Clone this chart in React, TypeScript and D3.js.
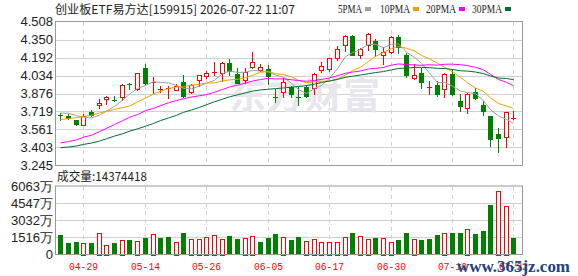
import React from "react";
import * as d3 from "d3";

// trading days shown (MM-DD)
const dates = [
  "04-24", "04-27", "04-28", "04-29", "04-30", "05-06", "05-07", "05-08", "05-11", "05-12",
  "05-13", "05-14", "05-15", "05-18", "05-19", "05-20", "05-21", "05-22", "05-25", "05-26",
  "05-27", "05-28", "05-29", "06-01", "06-02", "06-03", "06-04", "06-05", "06-08", "06-09",
  "06-10", "06-11", "06-12", "06-15", "06-16", "06-17", "06-18", "06-22", "06-23", "06-24",
  "06-25", "06-26", "06-29", "06-30", "07-01", "07-02", "07-03", "07-06", "07-07", "07-08",
  "07-09", "07-10", "07-13", "07-14", "07-15", "07-16", "07-17", "07-20", "07-21", "07-22",
];
const tickDates = ["04-29", "05-14", "05-26", "06-05", "06-17", "06-30", "07-10", "07-22"];

const open = [
  3.688, 3.682, 3.642, 3.598, 3.711, 3.772, 3.824, 3.816, 3.842, 3.963,
  3.917, 4.102, 3.969, 3.914, 3.914, 3.905, 3.978, 3.888, 3.992, 4.027,
  4.059, 4.053, 4.146, 4.050, 3.992, 4.105, 4.085, 4.088, 3.842, 3.888,
  3.932, 3.850, 3.937, 3.926, 4.079, 4.094, 4.184, 4.299, 4.383, 4.218,
  4.299, 4.334, 4.210, 4.239, 4.369, 4.213, 4.010, 4.056, 3.929, 3.952,
  3.914, 4.044, 3.813, 3.749, 3.891, 3.778, 3.679, 3.517, 3.494, 3.659,
];
const high = [
  3.703, 3.697, 3.648, 3.697, 3.735, 3.827, 3.853, 3.853, 3.958, 3.972,
  4.059, 4.131, 4.021, 3.940, 3.943, 3.958, 4.039, 3.958, 4.036, 4.073,
  4.157, 4.152, 4.178, 4.097, 4.097, 4.239, 4.131, 4.128, 3.917, 4.015,
  3.943, 3.937, 3.949, 4.059, 4.157, 4.192, 4.291, 4.389, 4.390, 4.273,
  4.407, 4.354, 4.282, 4.378, 4.386, 4.230, 4.137, 4.102, 3.987, 3.987,
  4.059, 4.088, 3.876, 3.879, 3.929, 3.813, 3.679, 3.575, 3.717, 3.726,
];
const low = [
  3.645, 3.653, 3.598, 3.596, 3.682, 3.749, 3.784, 3.808, 3.821, 3.920,
  3.911, 3.958, 3.885, 3.891, 3.833, 3.903, 3.845, 3.882, 3.943, 4.010,
  4.036, 3.987, 4.036, 3.966, 3.969, 4.100, 4.073, 3.958, 3.798, 3.842,
  3.842, 3.778, 3.845, 3.871, 4.068, 4.073, 4.172, 4.253, 4.216, 4.184,
  4.262, 4.204, 4.131, 4.233, 4.230, 4.021, 4.008, 3.929, 3.876, 3.853,
  3.842, 3.865, 3.720, 3.703, 3.824, 3.685, 3.413, 3.364, 3.407, 3.657,
];
const close = [
  3.682, 3.659, 3.607, 3.677, 3.688, 3.795, 3.845, 3.810, 3.949, 3.949,
  4.053, 3.972, 3.975, 3.920, 3.926, 3.943, 3.853, 3.949, 4.036, 4.056,
  4.065, 4.143, 4.071, 3.972, 4.065, 4.149, 4.108, 4.030, 3.836, 3.975,
  3.876, 3.842, 3.853, 4.050, 4.114, 4.184, 4.270, 4.383, 4.218, 4.265,
  4.401, 4.268, 4.239, 4.369, 4.282, 4.039, 4.036, 3.981, 3.934, 3.876,
  4.044, 3.868, 3.763, 3.874, 3.833, 3.726, 3.480, 3.488, 3.717, 3.665,
];
// volume in 万, and whether the bar is drawn as "up" (red)
const volume = [
  1689, 989, 1076, 1050, 989, 1925, 875, 989, 1312, 1251,
  1225, 1426, 1837, 1426, 1514, 1137, 1864, 1400, 1339, 1575,
  1750, 1400, 1601, 1339, 1487, 1662, 1076, 1426, 1776, 1575,
  1251, 1514, 1225, 1400, 1076, 1076, 1076, 1575, 1864, 1662,
  1339, 1487, 1487, 1076, 1251, 1864, 1339, 1251, 1339, 1689,
  1925, 1864, 1864, 2275, 1776, 2039, 4401, 5600, 4287, 1437,
];
const volUp = [
  0, 0, 0, 1, 0, 1, 1, 0, 1, 0,
  1, 0, 1, 0, 0, 1, 0, 1, 1, 1,
  1, 1, 0, 0, 1, 1, 0, 0, 0, 1,
  0, 0, 1, 1, 1, 1, 1, 1, 0, 1,
  1, 0, 1, 1, 0, 0, 1, 0, 0, 0,
  1, 0, 0, 1, 0, 0, 0, 1, 1, 0,
];

const ma5 = [
  3.706, 3.703, 3.682, 3.668, 3.663, 3.685, 3.722, 3.763, 3.817, 3.870,
  3.921, 3.947, 3.980, 3.974, 3.969, 3.947, 3.923, 3.918, 3.941, 3.967,
  3.992, 4.050, 4.074, 4.061, 4.063, 4.080, 4.073, 4.065, 4.038, 4.020,
  3.965, 3.912, 3.876, 3.919, 3.947, 4.009, 4.094, 4.200, 4.234, 4.264,
  4.307, 4.307, 4.278, 4.308, 4.312, 4.239, 4.193, 4.141, 4.054, 3.973,
  3.974, 3.941, 3.897, 3.885, 3.876, 3.813, 3.735, 3.680, 3.649, 3.615,
];
const ma10 = [
  3.648, 3.656, 3.665, 3.674, 3.685, 3.706, 3.720, 3.737, 3.752, 3.766,
  3.803, 3.835, 3.872, 3.896, 3.920, 3.934, 3.935, 3.949, 3.958, 3.968,
  3.970, 3.987, 3.996, 4.001, 4.015, 4.036, 4.062, 4.070, 4.050, 4.042,
  4.023, 3.993, 3.971, 3.979, 3.984, 3.987, 4.003, 4.038, 4.077, 4.106,
  4.158, 4.201, 4.239, 4.271, 4.288, 4.273, 4.250, 4.210, 4.181, 4.143,
  4.107, 4.067, 4.019, 3.970, 3.925, 3.894, 3.838, 3.789, 3.767, 3.746,
];
const ma20 = [
  3.443, 3.455, 3.469, 3.493, 3.510, 3.542, 3.571, 3.604, 3.637, 3.668,
  3.691, 3.726, 3.746, 3.769, 3.795, 3.815, 3.830, 3.845, 3.857, 3.867,
  3.887, 3.911, 3.934, 3.949, 3.968, 3.985, 3.999, 4.010, 4.004, 4.005,
  3.997, 3.990, 3.984, 3.990, 4.000, 4.012, 4.033, 4.054, 4.064, 4.074,
  4.091, 4.097, 4.105, 4.125, 4.136, 4.130, 4.127, 4.124, 4.129, 4.125,
  4.133, 4.134, 4.129, 4.121, 4.107, 4.084, 4.044, 4.000, 3.974, 3.945,
];
const ma30 = [
  3.401, 3.407, 3.416, 3.430, 3.442, 3.459, 3.480, 3.503, 3.523, 3.546,
  3.566, 3.590, 3.613, 3.639, 3.662, 3.685, 3.711, 3.732, 3.755, 3.778,
  3.804, 3.827, 3.847, 3.865, 3.882, 3.897, 3.908, 3.914, 3.919, 3.925,
  3.932, 3.938, 3.946, 3.959, 3.973, 3.986, 4.000, 4.019, 4.028, 4.039,
  4.050, 4.060, 4.069, 4.084, 4.096, 4.099, 4.105, 4.106, 4.103, 4.097,
  4.096, 4.087, 4.076, 4.073, 4.065, 4.051, 4.030, 4.012, 4.008, 3.998,
];

const priceTicks = [4.508, 4.35, 4.192, 4.034, 3.876, 3.719, 3.561, 3.403, 3.245];
const volTicks = [6063, 4547, 3032, 1516, 0];

const maSeries = [
  { name: "5PMA", values: ma5, color: "#a0a0a0" },
  { name: "10PMA", values: ma10, color: "#f0a000" },
  { name: "20PMA", values: ma20, color: "#ff00ff" },
  { name: "30PMA", values: ma30, color: "#006f30" },
];

const UP = "#ff0000";
const DOWN = "#008000";
const GRID = "#d0d0d0";
const FRAME = "#999999";
const CJK = "'Noto Sans CJK SC', sans-serif";

export default function App() {
  const left = 55.5;
  const right = 522.5;

  const x = d3.scaleBand<string>()
    .domain(dates)
    .range([56.5, 517.3])
    .paddingInner(0.35)
    .paddingOuter(0.175);
  const cx = (i: number) => Math.round(x(dates[i])! + x.bandwidth() / 2) + 0.5;

  const y = d3.scaleLinear().domain([3.245, 4.508]).range([165.5, 21.5]);
  const v = d3.scaleLinear().domain([0, 6063]).range([254.5, 186]);

  const line = d3.line<number>()
    .x((_, i) => cx(i))
    .y(d => y(d));

  const gridX = tickDates.map(t => cx(dates.indexOf(t)));

  return (
    <svg width={578} height={276} style={{ position: "absolute", left: 0, top: 0, background: "#fff" }}>
      {/* title and legend */}
      <text x={55} y={14} fontFamily={CJK} fontSize={12} fill="#222" textLength={240} lengthAdjust="spacingAndGlyphs">
        创业板ETF易方达[159915] 2026-07-22 11:07
      </text>
      {maSeries.map((s, k) => {
        const lx = [338, 380, 426, 472][k];
        const w = s.name.length * 6;
        return (
          <g key={s.name}>
            <text x={lx} y={13} fontFamily="'Liberation Serif', serif" fontSize={12} fill="#222"
              textLength={w} lengthAdjust="spacingAndGlyphs">{s.name}</text>
            <rect x={lx + w + 3} y={7} width={6} height={4} fill={s.color} />
          </g>
        );
      })}

      {/* price panel grid */}
      {priceTicks.slice(1, -1).map(t => (
        <line key={t} x1={left} x2={right} y1={Math.round(y(t)) + 0.5} y2={Math.round(y(t)) + 0.5} stroke={GRID} />
      ))}
      {gridX.map(gx => (
        <line key={"pg" + gx} x1={gx} x2={gx} y1={22} y2={165} stroke={GRID} strokeDasharray="4,4" />
      ))}
      {priceTicks.map(t => (
        <text key={"pl" + t} x={53} y={y(t)} dy="0.35em" textAnchor="end"
          fontFamily="'Liberation Sans', Arial, sans-serif" fontSize={13} fill="#222">
          {t.toFixed(3)}
        </text>
      ))}

      {/* watermark */}
      <text x={229} y={109} fontFamily={CJK} fontSize={37} fontWeight={700} fill="#e6e6ec" letterSpacing={1}>
        东方财富
      </text>

      {/* candles */}
      {dates.map((d, i) => {
        const isUp = close[i] >= open[i];
        const col = isUp ? UP : DOWN;
        const c = cx(i);
        const top = Math.round(y(Math.max(open[i], close[i])));
        const bot = Math.round(y(Math.min(open[i], close[i])));
        const hi = Math.round(y(high[i]));
        const lo = Math.round(y(low[i]));
        return (
          <g key={d} shapeRendering="crispEdges">
            <line x1={c} x2={c} y1={hi} y2={lo + 1} stroke={col} />
            {bot - top < 2 ? (
              <line x1={c - 2.5} x2={c + 2.5} y1={top + 0.5} y2={top + 0.5} stroke={col} />
            ) : isUp ? (
              <rect x={c - 2} y={top + 0.5} width={4} height={bot - top} fill="#fff" stroke={col} />
            ) : (
              <rect x={c - 2.5} y={top} width={5} height={bot - top + 1} fill={col} />
            )}
          </g>
        );
      })}

      {/* moving averages */}
      {maSeries.map(s => (
        <path key={s.name} d={line(s.values) ?? ""} fill="none" stroke={s.color} strokeWidth={1} />
      ))}

      {/* price frame */}
      <rect x={left} y={21.5} width={right - left} height={144} fill="none" stroke={FRAME} />

      {/* volume panel */}
      <text x={57} y={181} fontFamily={CJK} fontSize={12} fill="#222" textLength={90} lengthAdjust="spacingAndGlyphs">
        成交量:14374418
      </text>
      {volTicks.slice(1, -1).map(t => (
        <line key={"vg" + t} x1={left} x2={right} y1={Math.round(v(t)) + 0.5} y2={Math.round(v(t)) + 0.5} stroke={GRID} />
      ))}
      {gridX.map(gx => (
        <line key={"vx" + gx} x1={gx} x2={gx} y1={187} y2={254} stroke={GRID} strokeDasharray="4,4" />
      ))}
      {volTicks.map(t => (
        <text key={"vl" + t} x={53} y={v(t)} dy="0.35em" textAnchor="end"
          fontFamily="'Liberation Sans', Arial, sans-serif" fontSize={13} fill="#222">
          {t === 0 ? "0" : t + "万"}
        </text>
      ))}
      {dates.map((d, i) => {
        const c = cx(i);
        const top = Math.round(v(volume[i]));
        const base = Math.round(v(0));
        return volUp[i] ? (
          <rect key={"v" + d} x={c - 2} y={top + 0.5} width={4} height={base - top} fill="#fff" stroke={UP} shapeRendering="crispEdges" />
        ) : (
          <rect key={"v" + d} x={c - 2.5} y={top} width={5} height={base - top} fill={DOWN} shapeRendering="crispEdges" />
        );
      })}
      <rect x={left} y={186} width={right - left} height={68.5} fill="none" stroke={FRAME} />

      {/* x axis labels */}
      {tickDates.map(t => (
        <text key={"xl" + t} x={cx(dates.indexOf(t))} y={270} textAnchor="middle"
          fontFamily="'Liberation Mono', monospace" fontSize={11} fill="#ff0000"
          textLength={29} lengthAdjust="spacingAndGlyphs">
          {t}
        </text>
      ))}

      {/* site watermark */}
      <text x={457} y={272} fontFamily="'Liberation Serif', serif" fontSize={17} fontWeight={700} fill="#24427a"
        textLength={113} lengthAdjust="spacingAndGlyphs">
        www.365jz.com
      </text>
    </svg>
  );
}
